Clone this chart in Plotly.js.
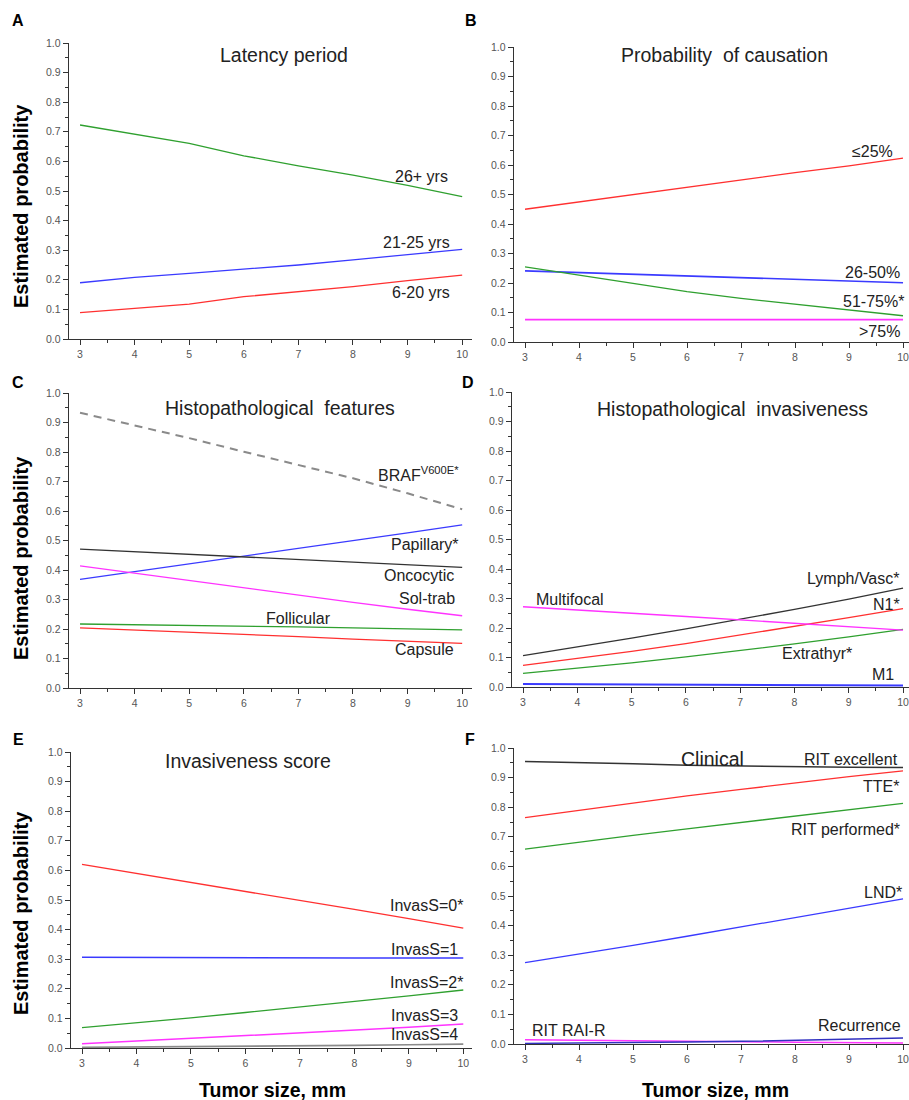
<!DOCTYPE html>
<html>
<head>
<meta charset="utf-8">
<script src="https://cdn.plot.ly/plotly-3.0.1.min.js"></script>
<style>html,body{margin:0;padding:0;background:#fff;}#chart{width:909px;height:1100px;}</style>
</head>
<body>
<div id="chart"></div>
<script>
// ---- data ----
const tumorSize = [3, 4, 5, 6, 7, 8, 9, 10];
const yTickVals = [0, 0.1, 0.2, 0.3, 0.4, 0.5, 0.6, 0.7, 0.8, 0.9, 1.0];

// A: Latency period
const lat26 = [0.723, 0.691, 0.661, 0.619, 0.585, 0.554, 0.519, 0.481];
const lat21 = [0.190, 0.208, 0.222, 0.235, 0.250, 0.267, 0.284, 0.303];
const lat6  = [0.089, 0.104, 0.118, 0.143, 0.160, 0.177, 0.197, 0.216];

// B: Probability of causation
const pc25   = [0.450, 0.475, 0.499, 0.524, 0.549, 0.574, 0.597, 0.623];
const pc50   = [0.241, 0.235, 0.230, 0.225, 0.219, 0.213, 0.207, 0.201];
const pc75   = [0.255, 0.227, 0.197, 0.171, 0.148, 0.128, 0.108, 0.089];
const pcOver = [0.076, 0.076, 0.076, 0.076, 0.076, 0.076, 0.076, 0.076];

// C: Histopathological features
const braf       = [0.933, 0.891, 0.847, 0.801, 0.756, 0.711, 0.660, 0.606];
const papillary  = [0.368, 0.394, 0.420, 0.446, 0.473, 0.500, 0.526, 0.553];
const oncocytic  = [0.471, 0.462, 0.453, 0.444, 0.436, 0.427, 0.418, 0.409];
const solTrab    = [0.414, 0.389, 0.363, 0.338, 0.313, 0.290, 0.267, 0.245];
const follicular = [0.217, 0.215, 0.213, 0.210, 0.207, 0.204, 0.200, 0.197];
const capsule    = [0.204, 0.197, 0.189, 0.182, 0.174, 0.166, 0.159, 0.151];

// D: Histopathological invasiveness
const lymphVasc  = [0.106, 0.135, 0.166, 0.197, 0.229, 0.263, 0.298, 0.335];
const n1         = [0.073, 0.096, 0.121, 0.147, 0.176, 0.205, 0.235, 0.266];
const extrathyr  = [0.046, 0.063, 0.082, 0.102, 0.123, 0.146, 0.170, 0.195];
const multifocal = [0.272, 0.262, 0.250, 0.239, 0.227, 0.216, 0.204, 0.193];
const m1         = [0.010, 0.009, 0.008, 0.008, 0.007, 0.006, 0.005, 0.005];

// E: Invasiveness score
const invas0 = [0.620, 0.590, 0.560, 0.529, 0.499, 0.468, 0.437, 0.405];
const invas1 = [0.307, 0.306, 0.305, 0.305, 0.305, 0.304, 0.304, 0.304];
const invas2 = [0.069, 0.085, 0.102, 0.120, 0.138, 0.157, 0.176, 0.196];
const invas3 = [0.014, 0.023, 0.032, 0.041, 0.051, 0.060, 0.070, 0.081];
const invas4 = [0.002, 0.003, 0.004, 0.006, 0.007, 0.009, 0.011, 0.013];

// F: Clinical
const ritExcellent = [0.954, 0.951, 0.947, 0.942, 0.939, 0.937, 0.935, 0.934];
const tte          = [0.765, 0.790, 0.814, 0.838, 0.860, 0.882, 0.903, 0.923];
const ritPerformed = [0.658, 0.682, 0.705, 0.727, 0.749, 0.771, 0.792, 0.813];
const lnd          = [0.275, 0.303, 0.333, 0.364, 0.396, 0.427, 0.458, 0.490];
const ritRaiR      = [0.014, 0.013, 0.011, 0.009, 0.008, 0.006, 0.004, 0.003];
const recurrence   = [0.002, 0.003, 0.005, 0.007, 0.009, 0.012, 0.016, 0.020];

// ---- styling ----
const C = {red:'#ff3030', blue:'#3a3aff', green:'#2fa02f', magenta:'#ff33ff', black:'#333333', gray:'#8a8a8a', navy:'#3030c0'};
const FONT = 'Liberation Sans, Arial, sans-serif';
const W = 909, H = 1100;

function tr(y, color, ax, dash, width) {
  return {x: tumorSize, y: y, type: 'scatter', mode: 'lines', xaxis: 'x' + ax, yaxis: 'y' + ax,
          line: {color: color, width: width || 1.3, dash: dash || 'solid'}, showlegend: false, hoverinfo: 'skip'};
}

const data = [
  tr(lat26, C.green, ''), tr(lat21, C.blue, ''), tr(lat6, C.red, ''),
  tr(pc25, C.red, 2), tr(pc50, C.blue, 2, null, 1.6), tr(pc75, C.green, 2), tr(pcOver, C.magenta, 2, null, 1.6),
  tr(braf, C.gray, 3, '8px,6px', 2), tr(papillary, C.blue, 3), tr(oncocytic, C.black, 3), tr(solTrab, C.magenta, 3),
  tr(follicular, C.green, 3), tr(capsule, C.red, 3),
  tr(lymphVasc, C.black, 4), tr(n1, C.red, 4), tr(extrathyr, C.green, 4), tr(multifocal, C.magenta, 4), tr(m1, C.blue, 4, null, 2),
  tr(invas0, C.red, 5), tr(invas1, C.blue, 5, null, 1.5), tr(invas2, C.green, 5), tr(invas3, C.magenta, 5, null, 1.5), tr(invas4, C.gray, 5, null, 1.6),
  tr(ritExcellent, C.black, 6, null, 1.5), tr(tte, C.red, 6), tr(ritPerformed, C.green, 6), tr(lnd, C.blue, 6),
  tr(ritRaiR, C.magenta, 6, null, 1.5), tr(recurrence, C.navy, 6, null, 1.5)
];

// pixel geometry of each panel: axis left/right, top (y=1), bottom (y=0), x range
const panels = [
  {l: 69,  r: 472, t: 43,  b: 339,  xr: [2.798, 10.18]},
  {l: 514, r: 909, t: 47,  b: 342,  xr: [2.796, 10.111]},
  {l: 69,  r: 472, t: 393, b: 688,  xr: [2.798, 10.18]},
  {l: 512, r: 909, t: 392, b: 687,  xr: [2.797, 10.11]},
  {l: 71,  r: 472, t: 752, b: 1048, xr: [2.798, 10.16]},
  {l: 514, r: 909, t: 748, b: 1044, xr: [2.796, 10.111]}
];

const layout = {
  width: W, height: H, margin: {l: 0, r: 0, t: 0, b: 0},
  paper_bgcolor: '#fff', plot_bgcolor: 'rgba(0,0,0,0)',
  font: {family: FONT, color: '#222'},
  showlegend: false, annotations: []
};

panels.forEach((p, i) => {
  const n = i === 0 ? '' : String(i + 1);
  layout['xaxis' + n] = {
    domain: [p.l / W, Math.min(1, p.r / W)], range: p.xr, anchor: 'y' + n,
    showline: true, linecolor: '#333', linewidth: 1.3, mirror: false,
    showgrid: false, zeroline: false, ticks: 'outside', ticklen: 5, tickwidth: 1, tickcolor: '#333',
    tickmode: 'array', tickvals: tumorSize, ticktext: tumorSize.map(String),
    ticklabeloverflow: 'allow',
    tickfont: {size: 10.5, color: '#555', family: FONT},
    minor: {dtick: 0.5, tick0: 3, ticks: 'outside', ticklen: 3, tickcolor: '#333', showgrid: false}
  };
  layout['yaxis' + n] = {
    domain: [1 - p.b / H, 1 - p.t / H], range: [0, 1], anchor: 'x' + n,
    showline: true, linecolor: '#333', linewidth: 1.3, mirror: false,
    showgrid: false, zeroline: false, ticks: 'outside', ticklen: 5, tickwidth: 1, tickcolor: '#333',
    tickmode: 'array', tickvals: yTickVals, ticktext: yTickVals.map(v => v.toFixed(1)),
    tickfont: {size: 10.5, color: '#555', family: FONT},
    minor: {dtick: 0.05, tick0: 0, ticks: 'outside', ticklen: 3, tickcolor: '#333', showgrid: false}
  };
});

function lab(ax, x, y, text, size) {
  layout.annotations.push({xref: 'x' + ax, yref: 'y' + ax, x: x, y: y, text: text, showarrow: false,
    xanchor: 'center', yanchor: 'middle', font: {size: size || 16, color: '#222', family: FONT}});
}
function paper(px, py, text, opts) {
  layout.annotations.push(Object.assign({xref: 'paper', yref: 'paper', x: px / W, y: 1 - py / H, text: text,
    showarrow: false, xanchor: 'center', yanchor: 'middle', font: {size: 16, color: '#111', family: FONT}}, opts || {}));
}

// panel titles
lab('', 6.74, 0.959, 'Latency period', 19.5);
lab(2, 6.69, 0.973, 'Probability  of causation', 19.5);
lab(3, 6.67, 0.949, 'Histopathological  features', 19.5);
lab(4, 6.85, 0.942, 'Histopathological  invasiveness', 19.5);
lab(5, 6.05, 0.970, 'Invasiveness score', 19.5);
lab(6, 6.48, 0.963, 'Clinical', 19.5);

// line labels
lab('', 9.26, 0.548, '26+ yrs'); lab('', 9.17, 0.325, '21-25 yrs'); lab('', 9.25, 0.156, '6-20 yrs');
lab(2, 9.43, 0.645, '≤25%'); lab(2, 9.44, 0.235, '26-50%'); lab(2, 9.45, 0.139, '51-75%*'); lab(2, 9.57, 0.035, '>75%');
lab(3, 9.20, 0.727, 'BRAF<sup>V600E*</sup>'); lab(3, 9.31, 0.487, 'Papillary*'); lab(3, 9.20, 0.381, 'Oncocytic');
lab(3, 9.35, 0.304, 'Sol-trab'); lab(3, 7.0, 0.236, 'Follicular'); lab(3, 9.31, 0.131, 'Capsule');
lab(4, 9.08, 0.368, 'Lymph/Vasc*'); lab(4, 9.69, 0.280, 'N1*'); lab(4, 3.86, 0.295, 'Multifocal');
lab(4, 8.42, 0.114, 'Extrathyr*'); lab(4, 9.64, 0.041, 'M1');
lab(5, 9.32, 0.481, 'InvasS=0*'); lab(5, 9.29, 0.333, 'InvasS=1'); lab(5, 9.32, 0.221, 'InvasS=2*');
lab(5, 9.29, 0.111, 'InvasS=3'); lab(5, 9.29, 0.044, 'InvasS=4');
lab(6, 9.04, 0.962, 'RIT excellent'); lab(6, 9.59, 0.869, 'TTE*'); lab(6, 8.93, 0.725, 'RIT performed*');
lab(6, 9.63, 0.513, 'LND*'); lab(6, 3.81, 0.047, 'RIT RAI-R'); lab(6, 9.19, 0.062, 'Recurrence');

// panel letters
const bold = (s) => ({size: s, color: '#000', family: FONT, weight: 'bold'});
paper(18, 21, '<b>A</b>', {font: bold(16)});
paper(471, 21, '<b>B</b>', {font: bold(16)});
paper(18, 383, '<b>C</b>', {font: bold(16)});
paper(468, 383, '<b>D</b>', {font: bold(16)});
paper(18, 739, '<b>E</b>', {font: bold(16)});
paper(470, 739, '<b>F</b>', {font: bold(16)});

// axis titles
paper(21, 206, '<b>Estimated probability</b>', {textangle: -90, font: bold(20)});
paper(21, 558, '<b>Estimated probability</b>', {textangle: -90, font: bold(20)});
paper(21, 913, '<b>Estimated probability</b>', {textangle: -90, font: bold(20)});
paper(272, 1090, '<b>Tumor size, mm</b>', {font: bold(19.5)});
paper(715, 1090, '<b>Tumor size, mm</b>', {font: bold(19.5)});

Plotly.newPlot('chart', data, layout, {staticPlot: true, displayModeBar: false});
</script>
</body>
</html>
